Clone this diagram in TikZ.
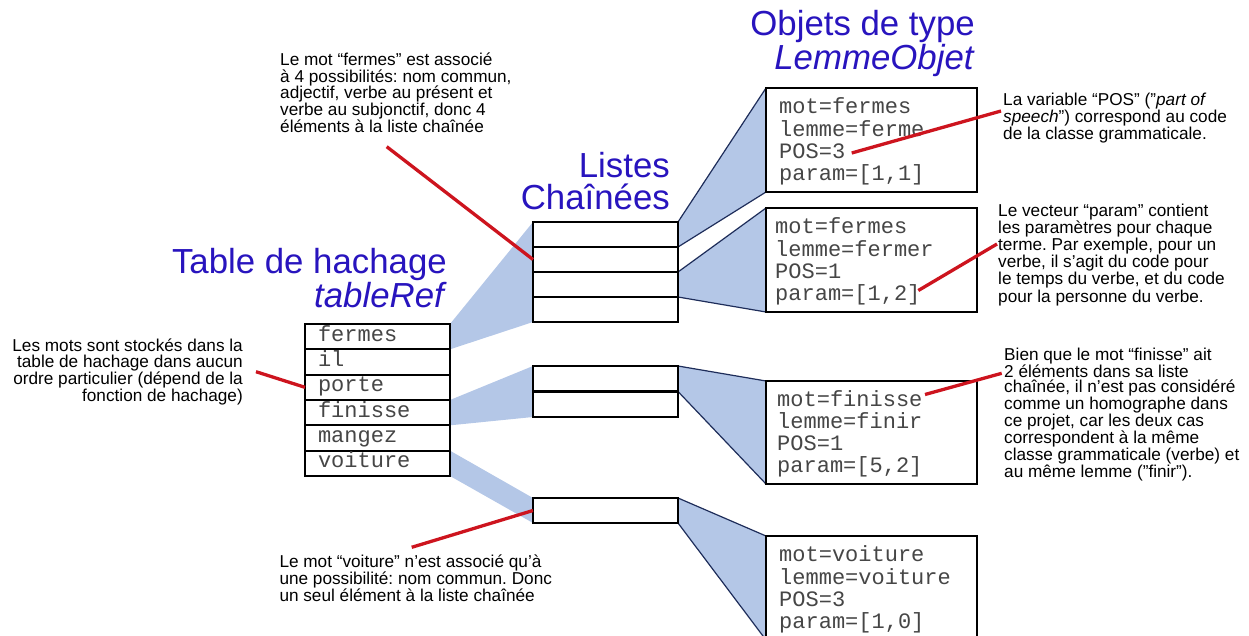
\documentclass[tikz,border=0pt]{standalone}
\usepackage{fontspec}
\setmainfont{Liberation Sans}
\newfontfamily\codefont{Liberation Mono}
\usetikzlibrary{backgrounds}
\frenchspacing
\definecolor{titleblue}{RGB}{40,20,190}
\definecolor{wedgefill}{RGB}{180,199,231}
\definecolor{wedgeline}{RGB}{30,45,90}
\definecolor{notered}{RGB}{205,20,30}
\definecolor{codegray}{RGB}{70,70,70}
\tikzset{
  cell/.style={draw=black, fill=white, line width=2.3pt, minimum width=145pt,
    inner sep=0pt, outer sep=0pt},
  hashcell/.style={cell, minimum height=25.33pt, text width=119pt, inner xsep=13pt,
    text height=12pt, text depth=3pt,
    align=left, text=codegray, font=\codefont\fontsize{22}{22.2}\selectfont},
  listcell/.style={cell, minimum height=25pt},
  objbox/.style={draw=black, fill=white, line width=2.3pt, minimum width=211pt,
    minimum height=104pt, inner sep=0pt, outer sep=0pt},
  code/.style={font=\codefont\fontsize{22}{22.2}\selectfont, text=codegray,
    align=left, inner sep=0pt, anchor=west},
  title/.style={font=\fontsize{34.8}{34}\selectfont, text=titleblue, inner sep=0pt,
    align=right, anchor=north east},
  note/.style={inner sep=0pt, align=left, anchor=north west},
  pointer/.style={draw=notered, line width=3.3pt},
  wedge/.style={fill=wedgefill},
  wedgeedge/.style={draw=wedgeline, line width=1.2pt},
}
\begin{document}
\begin{tikzpicture}[x=1pt, y=-1pt]
\useasboundingbox (0,0) rectangle (1249,636);
\clip (0,0) rectangle (1249,636);

% titles
\node[title] (ttable) at (447,247.6) {Table de hachage\\\textit{tableRef}};
\node[title, font=\fontsize{34.8}{32}\selectfont] (tlists) at (670,152) {Listes\\Chaînées};
\node[title] (tobj) at (975,9.6) {Objets de type\\\textit{LemmeObjet}};

% hash table
\node[hashcell] (h1) at (377.5,336.67) {fermes};
\node[hashcell] (h2) at (377.5,362.00) {il};
\node[hashcell] (h3) at (377.5,387.33) {porte};
\node[hashcell] (h4) at (377.5,412.67) {finisse};
\node[hashcell] (h5) at (377.5,438.00) {mangez};
\node[hashcell] (h6) at (377.5,463.33) {voiture};

% linked lists
\node[listcell] (l11) at (605.5,234.5) {};
\node[listcell] (l12) at (605.5,259.5) {};
\node[listcell] (l13) at (605.5,284.5) {};
\node[listcell] (l14) at (605.5,309.5) {};
\node[listcell, minimum height=25.5pt] (l21) at (605.5,378.75) {};
\node[listcell, minimum height=25.5pt] (l22) at (605.5,404.25) {};
\node[listcell] (l31) at (605.5,510.5) {};

% LemmeObjet boxes
\node[objbox] (o1) at (871.5,140) {};
\node[objbox] (o2) at (871.5,260) {};
\node[objbox, minimum height=103pt] (o3) at (871.5,432.5) {};
\node[objbox] (o4) at (871.5,588) {};

\node[code] (c1) at ([xshift=13pt,yshift=-1.5pt]o1.west) {mot=fermes\\lemme=ferme\\POS=3\\param=[1,1]};
\node[code] (c2) at ([xshift=9pt,yshift=-1.5pt]o2.west) {mot=fermes\\lemme=fermer\\POS=1\\param=[1,2]};
\node[code] (c3) at ([xshift=11pt,yshift=-1.5pt]o3.west) {mot=finisse\\lemme=finir\\POS=1\\param=[5,2]};
\node[code] (c4) at ([xshift=13pt,yshift=-1.5pt]o4.west) {mot=voiture\\lemme=voiture\\POS=3\\param=[1,0]};

% shaded links
\begin{scope}[on background layer]
  \path[wedge] (h1.north east) -- (l11.north west) -- (l14.south west) -- (h1.south east) -- cycle;
  \path[wedge] (h4.north east) -- (l21.north west) -- (l22.south west) -- (h4.south east) -- cycle;
  \path[wedge] (h6.north east) -- (l31.north west) -- (l31.south west) -- (h6.south east) -- cycle;
  \path[wedge] (l11.north east) -- (o1.north west) -- (o1.south west) -- (l11.south east) -- cycle;
  \path[wedge] (l13.north east) -- (o2.north west) -- (o2.south west) -- (l13.south east) -- cycle;
  \path[wedge] (l21.north east) -- (o3.north west) -- (o3.south west) -- (l21.south east) -- cycle;
  \path[wedge] (l31.north east) -- (o4.north west) -- (o4.south west) -- (l31.south east) -- cycle;
  \draw[wedgeedge] (l11.north east) -- (o1.north west) (l11.south east) -- (o1.south west);
  \draw[wedgeedge] (l13.north east) -- (o2.north west) (l13.south east) -- (o2.south west);
  \draw[wedgeedge] (l21.north east) -- (o3.north west) (l21.south east) -- (o3.south west);
  \draw[wedgeedge] (l31.north east) -- (o4.north west) (l31.south east) -- (o4.south west);
\end{scope}

% notes
\begin{scope}[font=\fontsize{17.2}{16.8}\selectfont]
\node[note] (ntop) at (280,52.4) {Le mot “fermes” est associé\\à 4 possibilités: nom commun,\\adjectif, verbe au présent et\\verbe au subjonctif, donc 4\\éléments à la liste chaînée};
\node[note, align=right, anchor=north east, font=\fontsize{17.2}{16.6}\selectfont] (nleft) at (243,338.4) {Les mots sont stockés dans la\\table de hachage dans aucun\\ordre particulier (dépend de la\\fonction de hachage)};
\node[note, font=\fontsize{17.2}{17}\selectfont] (nbot) at (279.3,555) {Le mot “voiture” n’est associé qu’à\\une possibilité: nom commun. Donc\\un seul élément à la liste chaînée};
\node[note, font=\fontsize{17.2}{15}\selectfont] (npos) at (1003,92.4) {La variable “POS” (”\textit{part of}\\\textit{speech}”) correspond au code\\de la classe grammaticale.};
\node[note, font=\fontsize{17.2}{14.2}\selectfont] (nparam) at (998,204) {Le vecteur “param” contient\\les paramètres pour chaque\\terme. Par exemple, pour un\\verbe, il s’agit du code pour\\le temps du verbe, et du code\\pour la personne du verbe.};
\node[note, font=\fontsize{17.2}{14.9}\selectfont] (nfin) at (1004,347.4) {Bien que le mot “finisse” ait\\2 éléments dans sa liste\\chaînée, il n’est pas considéré\\comme un homographe dans\\ce projet, car les deux cas\\correspondent à la même\\classe grammaticale (verbe) et\\au même lemme (”finir”).};
\end{scope}

% pointer ends
\coordinate (ptop) at (386.7,146.7);
\coordinate (pleft) at (256,371.7);
\coordinate (pbot) at (411.7,547.3);
\coordinate (pPOSa) at (851.7,153);
\coordinate (pPOSb) at (1001,111);
\coordinate (pPARa) at (918.3,290.5);
\coordinate (pPARb) at (997,244);
\coordinate (pFINa) at (925,394.5);
\coordinate (pFINb) at (1001.7,373.3);

\draw[pointer] (ptop) -- (l12.west);
\draw[pointer] (pleft) -- (h3.west);
\draw[pointer] (pbot) -- (l31.west);
\draw[pointer] (pPOSa) -- (pPOSb);
\draw[pointer] (pPARa) -- (pPARb);
\draw[pointer] (pFINa) -- (pFINb);
\end{tikzpicture}
\end{document}
